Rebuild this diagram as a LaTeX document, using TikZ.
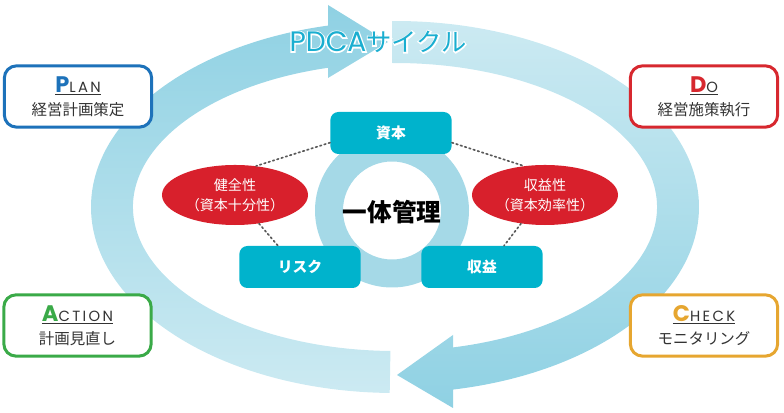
\documentclass[tikz,border=0pt]{standalone}
\usepackage{fontspec}
\setmainfont{Noto Sans CJK JP}
\newfontfamily\latinfont{Poppins}
\usetikzlibrary{shapes.geometric}

\definecolor{cyclelight}{HTML}{CCEAF2}
\definecolor{cycledark}{HTML}{8FD1E3}
\definecolor{ringblue}{HTML}{A5D9E7}
\definecolor{keycyan}{HTML}{00B3CC}
\definecolor{viewred}{HTML}{D8202C}
\definecolor{titlecyan}{HTML}{1AAED0}
\definecolor{planblue}{HTML}{1D72BA}
\definecolor{dored}{HTML}{D7282F}
\definecolor{checkorange}{HTML}{E6A630}
\definecolor{actgreen}{HTML}{3AAA48}
\definecolor{textgray}{HTML}{333333}

% heading of a phase box: big coloured initial, spaced rest, underlined
\newcommand{\phasehead}[3]{%
  \underline{{\latinfont\bfseries\color{#1}\fontsize{16}{16}\selectfont #2}%
  {\latinfont\addfontfeatures{LetterSpace=16}\fontsize{10.5}{11}\selectfont #3}}}
% white outline round the title
\newcommand{\haloed}[1]{\rlap{\special{pdf:literal direct 1 Tr 1.8 w 1 1 1 RG}#1\special{pdf:literal direct 0 Tr}}#1}

\tikzset{
  keybox/.style={fill=keycyan, rounded corners=0.2cm, minimum width=3.03cm,
    minimum height=1.05cm, text=white, font=\fontsize{10.5}{12}\selectfont\bfseries},
  viewell/.style={ellipse, fill=viewred, minimum width=3.65cm, minimum height=1.5cm,
    inner sep=0pt, text=white, align=center, font=\fontsize{10}{14}\selectfont},
  phasebox/.style={draw, line width=0.075cm, rounded corners=0.3cm, fill=white,
    minimum width=3.68cm, minimum height=1.53cm, align=center, text=textgray,
    font=\fontsize{11}{14.5}\selectfont},
  linkdots/.style={dotted, line width=1.2pt, black!65, line cap=round}
}

\begin{document}
\begin{tikzpicture}[x=0.025cm, y=0.025cm]
  \useasboundingbox (0,0) rectangle (784,413);

  % cycle arrows
  \shade[top color=cycledark, bottom color=cyclelight, shift={(395,206)}]
    (269:304 and 186) arc[start angle=269, end angle=102.7, x radius=304, y radius=186]
    -- (-67,202) -- (-7,165) -- (-67,129) -- (104.8:262 and 144)
    arc[start angle=104.8, end angle=269, x radius=262, y radius=144] -- cycle;
  \shade[top color=cyclelight, bottom color=cycledark, shift={(395,206)}]
    (90.5:304 and 186) arc[start angle=90.5, end angle=-79, x radius=304, y radius=186]
    -- (58,-201) -- (2,-168) -- (58,-128) -- (-77.2:262 and 144)
    arc[start angle=-77.2, end angle=90.5, x radius=262, y radius=144] -- cycle;

  % centre ring
  \fill[ringblue, even odd rule] (392,202.5) circle[radius=77] (392,202.5) circle[radius=49];
  \node (core) at (392,201) {\fontsize{17.5}{20}\selectfont\bfseries 一体管理};

  \node[keybox] (capital) at (391,280) {資本};
  \node[keybox] (risk) at (300,146) {リスク};
  \node[keybox] (earnings) at (482,146) {収益};

  \node[viewell] (soundness) at (235,218) {健全性\\（資本十分性）};
  \node[viewell] (efficiency) at (545,218) {収益性\\（資本効率性）};

  \draw[linkdots] (capital.189) -- (soundness.54);
  \draw[linkdots] (capital.351) -- (efficiency.126);
  \draw[linkdots] (soundness.310) -- (risk.136);
  \draw[linkdots] (efficiency.230) -- (earnings.44);

  % phases
  \node[phasebox, draw=planblue] (plan) at (78,316.5)
    {\phasehead{planblue}{P}{LAN}\\[2pt]経営計画策定};
  \node[phasebox, draw=dored] (do) at (704,316.5)
    {\phasehead{dored}{D}{O}\\[2pt]経営施策執行};
  \node[phasebox, draw=checkorange] (check) at (704,87.5)
    {\phasehead{checkorange}{C}{HECK}\\[2pt]モニタリング};
  \node[phasebox, draw=actgreen] (act) at (77.5,87.5)
    {\phasehead{actgreen}{A}{CTION}\\[2pt]計画見直し};

  \node[text=titlecyan] (title) at (378,371)
    {\haloed{{\latinfont\fontsize{20}{20}\selectfont PDCA}\fontsize{18}{20}\selectfont サイクル}};
\end{tikzpicture}
\end{document}
